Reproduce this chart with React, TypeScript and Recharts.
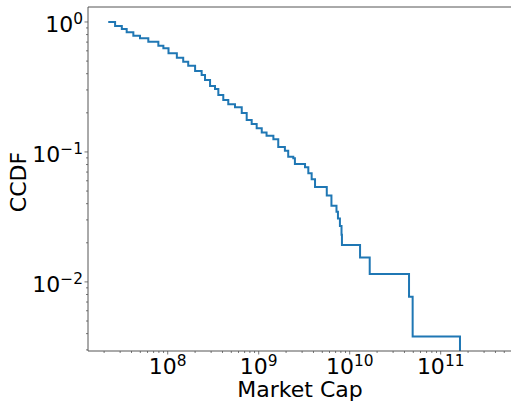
import React from "react";
import { Line, LineChart, ReferenceLine, XAxis, YAxis } from "recharts";

// CCDF of market cap (step curve)
const marketCap = [
  2.22e7, 2.64e7, 3.13e7, 3.54e7, 4.19e7, 4.96e7, 6.12e7, 7.89e7, 8.96e7, 1.02e8,
  1.26e8, 1.48e8, 1.68e8, 2.0e8, 2.36e8, 2.57e8, 2.92e8, 3.31e8, 3.6e8, 4.08e8,
  4.63e8, 5.49e8, 6.51e8, 7.38e8, 8.37e8, 9.5e8, 1.08e9, 1.22e9, 1.45e9, 1.64e9,
  1.94e9, 2.11e9, 2.4e9, 2.5e9, 3.23e9, 3.51e9, 3.82e9, 4.16e9, 5.6e9, 6.3e9,
  7.16e9, 7.43e9, 7.81e9, 8.13e9, 8.22e9, 1.3e10, 1.66e10, 4.49e10, 4.92e10, 1.63e11,
];
const ccdf = [
  1.0, 0.931, 0.883, 0.833, 0.785, 0.749, 0.705, 0.657, 0.628, 0.574,
  0.531, 0.495, 0.461, 0.42, 0.391, 0.358, 0.322, 0.305, 0.274, 0.251,
  0.233, 0.221, 0.199, 0.176, 0.164, 0.152, 0.141, 0.133, 0.125, 0.109,
  0.102, 0.092, 0.0895, 0.0809, 0.0763, 0.0686, 0.0617, 0.0538, 0.0462, 0.0385,
  0.0346, 0.0308, 0.0269, 0.0231, 0.0192, 0.0154, 0.0115, 0.0077, 0.0038, 0.0001,
];

const xMajorTicks = [1e8, 1e9, 1e10, 1e11];
const xMajorLabels = ["8", "9", "10", "11"];
const yMajorTicks = [1e-2, 1e-1, 1];
const yMajorLabels = ["\u22122", "\u22121", "0"];
const xDecades = [1e7, 1e8, 1e9, 1e10, 1e11];
const yDecades = [1e-3, 1e-2, 1e-1];
const minorSteps = [2, 3, 4, 5, 6, 7, 8, 9];

const X_DOMAIN: [number, number] = [1.33e7, 6.08e11];
const Y_DOMAIN: [number, number] = [0.00294, 1.304];

const data = marketCap.map((cap, i) => ({ cap, ccdf: ccdf[i] }));

const inRange = (v: number, d: [number, number]) => v >= d[0] && v <= d[1];
const xTicks = [...xMajorTicks, ...xDecades.flatMap((d) => minorSteps.map((m) => d * m))]
  .filter((v) => inRange(v, X_DOMAIN))
  .sort((a, b) => a - b);
const yTicks = [...yMajorTicks, ...yDecades.flatMap((d) => minorSteps.map((m) => d * m))]
  .filter((v) => inRange(v, Y_DOMAIN))
  .sort((a, b) => a - b);

const FONT = "'DejaVu Sans', sans-serif";
const SPINE = "#555";

const XTick = (props: any) => {
  const { x, y, payload } = props;
  const idx = xMajorTicks.indexOf(payload.value);
  if (idx < 0) return <line x1={x} x2={x} y1={y} y2={y + 2} stroke={SPINE} strokeWidth={0.8} />;
  return (
    <g>
      <line x1={x} x2={x} y1={y} y2={y + 3.5} stroke={SPINE} strokeWidth={0.8} />
      <text x={x} y={y + 22.5} textAnchor="middle" fontSize={22} fontFamily={FONT} fill="#000">
        10
        <tspan dy={-8} fontSize={15.4}>{xMajorLabels[idx]}</tspan>
      </text>
    </g>
  );
};

const YTick = (props: any) => {
  const { x, y, payload } = props;
  const idx = yMajorTicks.indexOf(payload.value);
  if (idx < 0) return <line x1={x - 2} x2={x} y1={y} y2={y} stroke={SPINE} strokeWidth={0.8} />;
  return (
    <g>
      <line x1={x - 3.5} x2={x} y1={y} y2={y} stroke={SPINE} strokeWidth={0.8} />
      <text x={x - 5} y={y + 10} textAnchor="end" fontSize={22} fontFamily={FONT} fill="#000">
        10
        <tspan dy={-8} fontSize={15.4}>{yMajorLabels[idx]}</tspan>
      </text>
    </g>
  );
};

export default function App() {
  return (
    <div style={{ position: "absolute", left: 0, top: 0, width: 511, height: 402, overflow: "hidden", background: "#fff" }}>
      <LineChart width={513} height={402} data={data} margin={{ top: 7, right: 1, left: 0, bottom: 0 }}>
        <XAxis
          dataKey="cap"
          type="number"
          scale="log"
          domain={X_DOMAIN}
          allowDataOverflow
          ticks={xTicks}
          interval={0}
          tick={XTick}
          tickLine={false}
          tickSize={0}
          tickMargin={0}
          height={51}
          axisLine={{ stroke: SPINE, strokeWidth: 1 }}
        />
        <YAxis
          dataKey="ccdf"
          type="number"
          scale="log"
          domain={Y_DOMAIN}
          allowDataOverflow
          ticks={yTicks}
          interval={0}
          tick={YTick}
          tickLine={false}
          tickSize={0}
          tickMargin={0}
          width={88}
          axisLine={{ stroke: SPINE, strokeWidth: 1 }}
        />
        <ReferenceLine y={Y_DOMAIN[1]} stroke={SPINE} strokeWidth={1} />
        <Line
          dataKey="ccdf"
          type="stepAfter"
          stroke="#1f77b4"
          strokeWidth={2}
          dot={false}
          isAnimationActive={false}
        />
      </LineChart>
      <svg width={511} height={402} style={{ position: "absolute", left: 0, top: 0, pointerEvents: "none" }}>
        <text x={300} y={397} textAnchor="middle" fontSize={22} fontFamily={FONT} fill="#000">
          Market Cap
        </text>
        <text
          x={26}
          y={182}
          textAnchor="middle"
          fontSize={22}
          fontFamily={FONT}
          fill="#000"
          transform="rotate(-90 26 182)"
        >
          CCDF
        </text>
      </svg>
    </div>
  );
}
